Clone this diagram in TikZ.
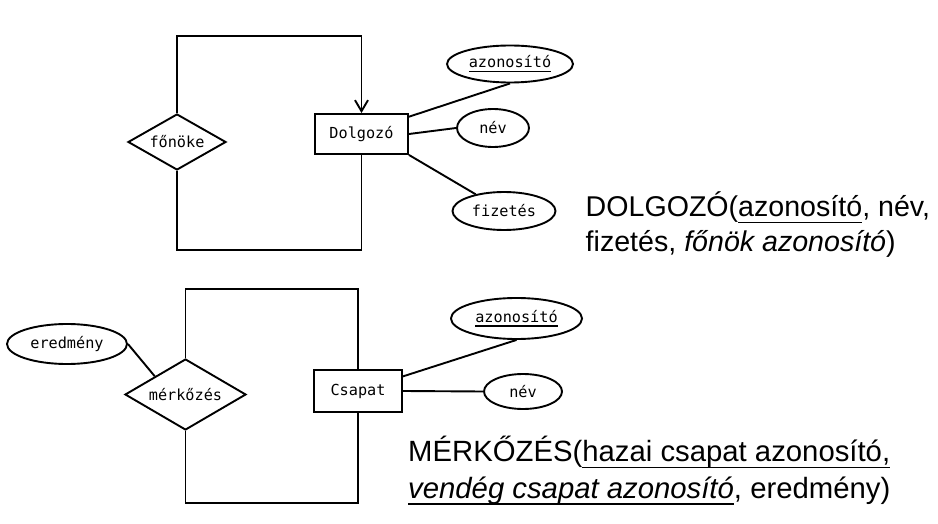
\documentclass[tikz,border=0pt]{standalone}
\usepackage{fontspec}
\setmainfont{Liberation Sans}
\setmonofont{DejaVu Sans Mono}
\usetikzlibrary{arrows.meta,shapes.geometric}
\newcommand{\erfont}{\ttfamily\fontsize{15.2}{18}\selectfont}
% underline at a fixed depth below the baseline
\newcommand{\keyul}[2][6.4pt]{\leavevmode\setbox0\hbox{#2}\rlap{\rule[-#1]{\wd0}{1.6pt}}\box0}
\newcommand{\keyattr}[1]{\keyul[4.4pt]{#1}}
\tikzset{
    er/.style={line width=1.9pt},
    entity/.style={er, draw, rectangle, inner sep=0pt, font=\erfont},
    relship/.style={er, draw, diamond, aspect=2, inner sep=0pt, font=\erfont},
    attrib/.style={er, draw, ellipse, inner sep=0pt, font=\erfont},
    schema/.style={anchor=base west, inner sep=0pt, font=\fontsize{28.6}{34}\selectfont},
}

\begin{document}
\begin{tikzpicture}[x=1pt,y=-1pt]
        \useasboundingbox (0,0) rectangle (938,524);

        % DOLGOZO, recursive
        \node[relship, minimum width=98pt, minimum height=56pt] (fonoke) at (177,142) {főnöke};
        \node[entity, minimum width=93pt, minimum height=40pt] (dolgozo) at (361.5,134) {Dolgozó};
        \node[attrib, minimum width=126pt, minimum height=37pt] (azon1) at (510,64) {\keyattr{azonosító}};
        \node[attrib, minimum width=72pt, minimum height=38pt] (nev1) at (493,128) {név};
        \node[attrib, minimum width=103pt, minimum height=38pt] (fiz1) at (504,211) {fizetés};

        \draw[er, -{Straight Barb[length=11pt,width=13pt]}] (fonoke.north) -- ++(0,-77) -| (dolgozo.north);
        \draw[er] (fonoke.south) -- ++(0,79) -| (dolgozo.south);
        \draw[er] (dolgozo.20) -- (azon1.south);
        \draw[er] (dolgozo.east) -- (nev1.west);
        \draw[er] (dolgozo.south east) -- (fiz1);

        \node[schema] (rel1a) at (585.5,217) {DOLGOZÓ(\keyul{azonosító}, név,};
        \node[schema] (rel1b) at (585.5,251.7) {fizetés, \textit{főnök azonosító})};

        % MERKOZES, binary on one entity
        \node[attrib, minimum width=120pt, minimum height=40pt] (ered) at (67,344) {eredmény};
        \node[relship, minimum width=121pt, minimum height=71pt] (merk) at (185.5,394.5) {mérkőzés};
        \node[entity, minimum width=88pt, minimum height=42pt] (csapat) at (358,391) {Csapat};
        \node[attrib, minimum width=131pt, minimum height=41pt] (azon2) at (516.5,318.5) {\keyattr{azonosító}};
        \node[attrib, minimum width=78pt, minimum height=35pt] (nev2) at (523,391.5) {név};

        \draw[er] (merk.north) -- ++(0,-69) -| (csapat.north);
        \draw[er] (merk.south) -- ++(0,72) -| (csapat.south);
        \draw[er] (ered.east) -- (merk.north west);
        \draw[er] (csapat.18) -- (azon2.south);
        \draw[er] (csapat.east) -- (nev2.west);

        \node[schema, font=\fontsize{29.3}{35}\selectfont] (rel2a) at (408,461.7) {MÉRKŐZÉS(\keyul{hazai csapat azonosító,}};
        \node[schema, font=\fontsize{29.3}{35}\selectfont] (rel2b) at (408,498.3) {\keyul{\textit{vendég csapat azonosító}}, eredmény)};

    \end{tikzpicture}
\end{document}
